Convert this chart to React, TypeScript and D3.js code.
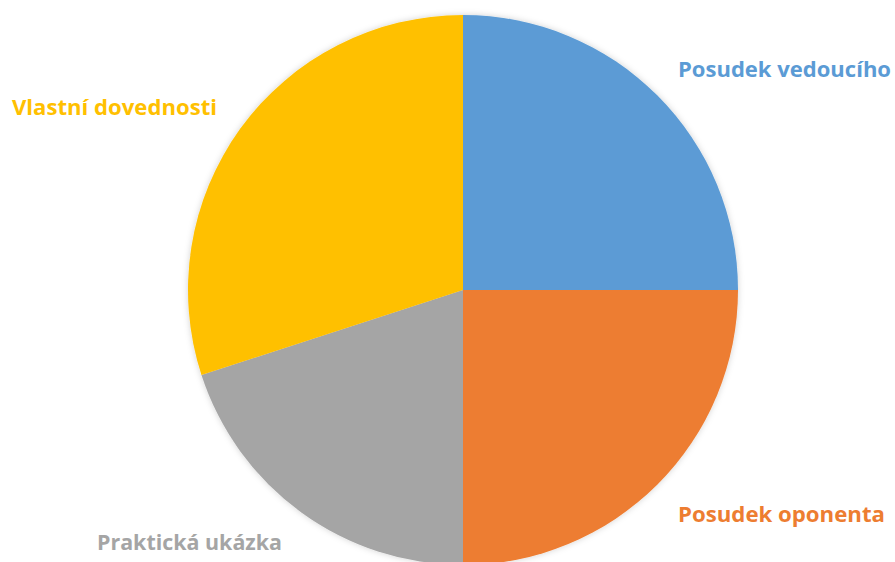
import React from "react";
import * as d3 from "d3";

const categories = ["Posudek vedoucího", "Posudek oponenta", "Praktická ukázka", "Vlastní dovednosti"];
const values = [25, 25, 20, 30];
const colors = ["#5B9BD5", "#ED7D31", "#A5A5A5", "#FFC000"];
// label placement (anchor x, baseline y, width) per category
const labelPos = [
  { x: 678, y: 77, w: 213 },
  { x: 678, y: 522, w: 207 },
  { x: 97, y: 550, w: 185 },
  { x: 12, y: 115, w: 205 },
];

export default function App() {
  const W = 895, H = 562;
  const cx = 463, cy = 290, r = 275;
  const pie = d3.pie<number>().sort(null).value((d) => d)(values);
  const arc = d3.arc<d3.PieArcDatum<number>>().innerRadius(0).outerRadius(r);
  return (
    <svg width={W} height={H} style={{ position: "absolute", left: 0, top: 0, display: "block", background: "#fff" }}>
      <defs>
        <filter id="sh" x="-10%" y="-10%" width="120%" height="120%">
          <feDropShadow dx="0" dy="0" stdDeviation="3" floodColor="#000" floodOpacity="0.18" />
        </filter>
      </defs>
      <g transform={`translate(${cx},${cy})`} filter="url(#sh)">
        {pie.map((p, i) => (
          <path key={i} d={arc(p) || ""} fill={colors[i]} />
        ))}
      </g>
      {categories.map((c, i) => (
        <text
          key={c}
          x={labelPos[i].x}
          y={labelPos[i].y}
          fill={colors[i]}
          fontFamily="'Open Sans', sans-serif"
          fontWeight="bold"
          fontSize={22}
          textLength={labelPos[i].w}
          lengthAdjust="spacingAndGlyphs"
        >
          {c}
        </text>
      ))}
    </svg>
  );
}
